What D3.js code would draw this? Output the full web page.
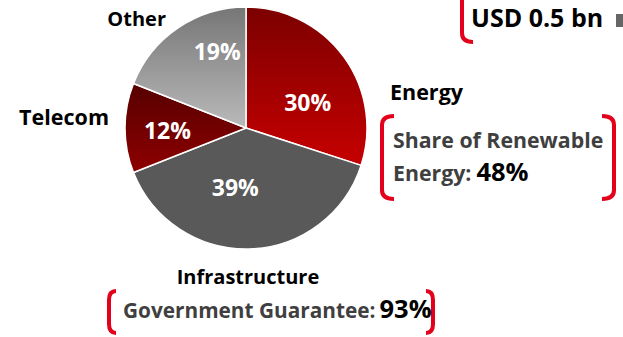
<!DOCTYPE html>
<html>
<head>
<meta charset="utf-8">
<script src="https://cdn.jsdelivr.net/npm/d3@7"></script>
<style>
  body { margin: 0; background: #fff; }
  text { font-family: "Open Sans", "DejaVu Sans", sans-serif; font-weight: bold; }
</style>
</head>
<body>
<div id="chart"></div>
<script>
var w = 623,
    h = 337;

// data
var categories = ["Energy", "Infrastructure", "Telecom", "Other"];
var shares = [30, 39, 12, 19];
var noteLabels = ["Share of Renewable", "Government Guarantee:"];
var noteValues = ["48%", "93%"];
var totalLabel = "USD 0.5 bn";

var cx = 246, cy = 128, r = 121;

var svg = d3.select("#chart")
  .append("svg")
  .attr("width", w)
  .attr("height", h);

var defs = svg.append("defs");

// fills per slice (gradient top -> bottom)
var fills = [
  ["#7c0000", "#c60000"],
  ["#595959", "#595959"],
  ["#560000", "#8e0000"],
  ["#767676", "#bababa"]
];

fills.forEach(function(f, i) {
  var g = defs.append("linearGradient")
    .attr("id", "grad" + i)
    .attr("x1", 0).attr("y1", 0)
    .attr("x2", 0).attr("y2", 1);
  g.append("stop").attr("offset", "0%").attr("stop-color", f[0]);
  g.append("stop").attr("offset", "100%").attr("stop-color", f[1]);
});

var pie = d3.pie().sort(null).value(function(d) { return d; });
var arc = d3.arc().innerRadius(0).outerRadius(r);

var arcs = pie(shares);

var g = svg.append("g").attr("transform", "translate(" + cx + "," + cy + ")");

g.selectAll(".slice")
  .data(arcs)
  .enter()
  .append("path")
  .attr("class", "slice")
  .attr("d", arc)
  .attr("fill", function(d, i) { return "url(#grad" + i + ")"; })
  .attr("stroke", "#fff")
  .attr("stroke-width", 1.5);

// percentage labels, placed a bit off the centroid
var labelArc = d3.arc().innerRadius(0).outerRadius(r * 1.2);
var nudge = [[3, 17], [-13, -13], [-6, 3], [12, -16]];

g.selectAll(".pct")
  .data(arcs)
  .enter()
  .append("text")
  .attr("class", "pct")
  .attr("transform", function(d, i) {
    var c = labelArc.centroid(d);
    return "translate(" + (c[0] + nudge[i][0]) + "," + (c[1] + nudge[i][1]) + ")";
  })
  .attr("text-anchor", "middle")
  .attr("dy", "0.36em")
  .attr("fill", "#fff")
  .attr("font-size", "23px")
  .text(function(d) { return d.data + "%"; });

// category names
var catPos = [[390, 100, "start", 21.5], [248, 284, "middle", 20], [109, 125, "end", 21.5], [166, 26, "end", 20]];
svg.selectAll(".cat")
  .data(categories)
  .enter()
  .append("text")
  .attr("class", "cat")
  .attr("x", function(d, i) { return catPos[i][0]; })
  .attr("y", function(d, i) { return catPos[i][1]; })
  .attr("text-anchor", function(d, i) { return catPos[i][2]; })
  .attr("font-size", function(d, i) { return catPos[i][3] + "px"; })
  .attr("fill", "#000")
  .text(function(d) { return d; });

// red brackets
function bracket(x, y0, y1, dir, hook) {
  var rr = 9;
  var p = d3.path();
  p.moveTo(x + dir * hook, y0);
  p.quadraticCurveTo(x, y0, x, y0 + rr);
  p.lineTo(x, y1 - rr);
  p.quadraticCurveTo(x, y1, x + dir * hook, y1);
  svg.append("path")
    .attr("d", p.toString())
    .attr("fill", "none")
    .attr("stroke", "#e2001a")
    .attr("stroke-width", 4)
    .attr("stroke-linecap", "butt");
}

bracket(382, 116, 199, 1, 12);
bracket(614, 116, 199, -1, 12);
bracket(109, 291, 333, 1, 7);
bracket(433, 291, 333, -1, 7);
bracket(462, -12, 42, 1, 11);

// energy note
svg.append("text")
  .attr("x", 393).attr("y", 147.5)
  .attr("font-size", "21.3px")
  .attr("fill", "#3f3f3f")
  .text(noteLabels[0]);

var en = svg.append("text")
  .attr("x", 393).attr("y", 181)
  .attr("font-size", "21.3px")
  .attr("fill", "#3f3f3f");
en.append("tspan").text("Energy:");
en.append("tspan").attr("fill", "#000").attr("font-size", "25.5px").attr("dx", 5).text(noteValues[0]);

// infrastructure note
var gv = svg.append("text")
  .attr("x", 123).attr("y", 318)
  .attr("font-size", "20.8px")
  .attr("fill", "#3f3f3f");
gv.append("tspan").text(noteLabels[1]);
gv.append("tspan").attr("fill", "#000").attr("font-size", "25.5px").attr("dx", 4).text(noteValues[1]);

// total
svg.append("text")
  .attr("x", 471).attr("y", 27)
  .attr("font-size", "25px")
  .attr("fill", "#000")
  .text(totalLabel);

svg.append("rect")
  .attr("x", 616).attr("y", 14)
  .attr("width", 7).attr("height", 13)
  .attr("fill", "#666");
</script>
</body>
</html>
